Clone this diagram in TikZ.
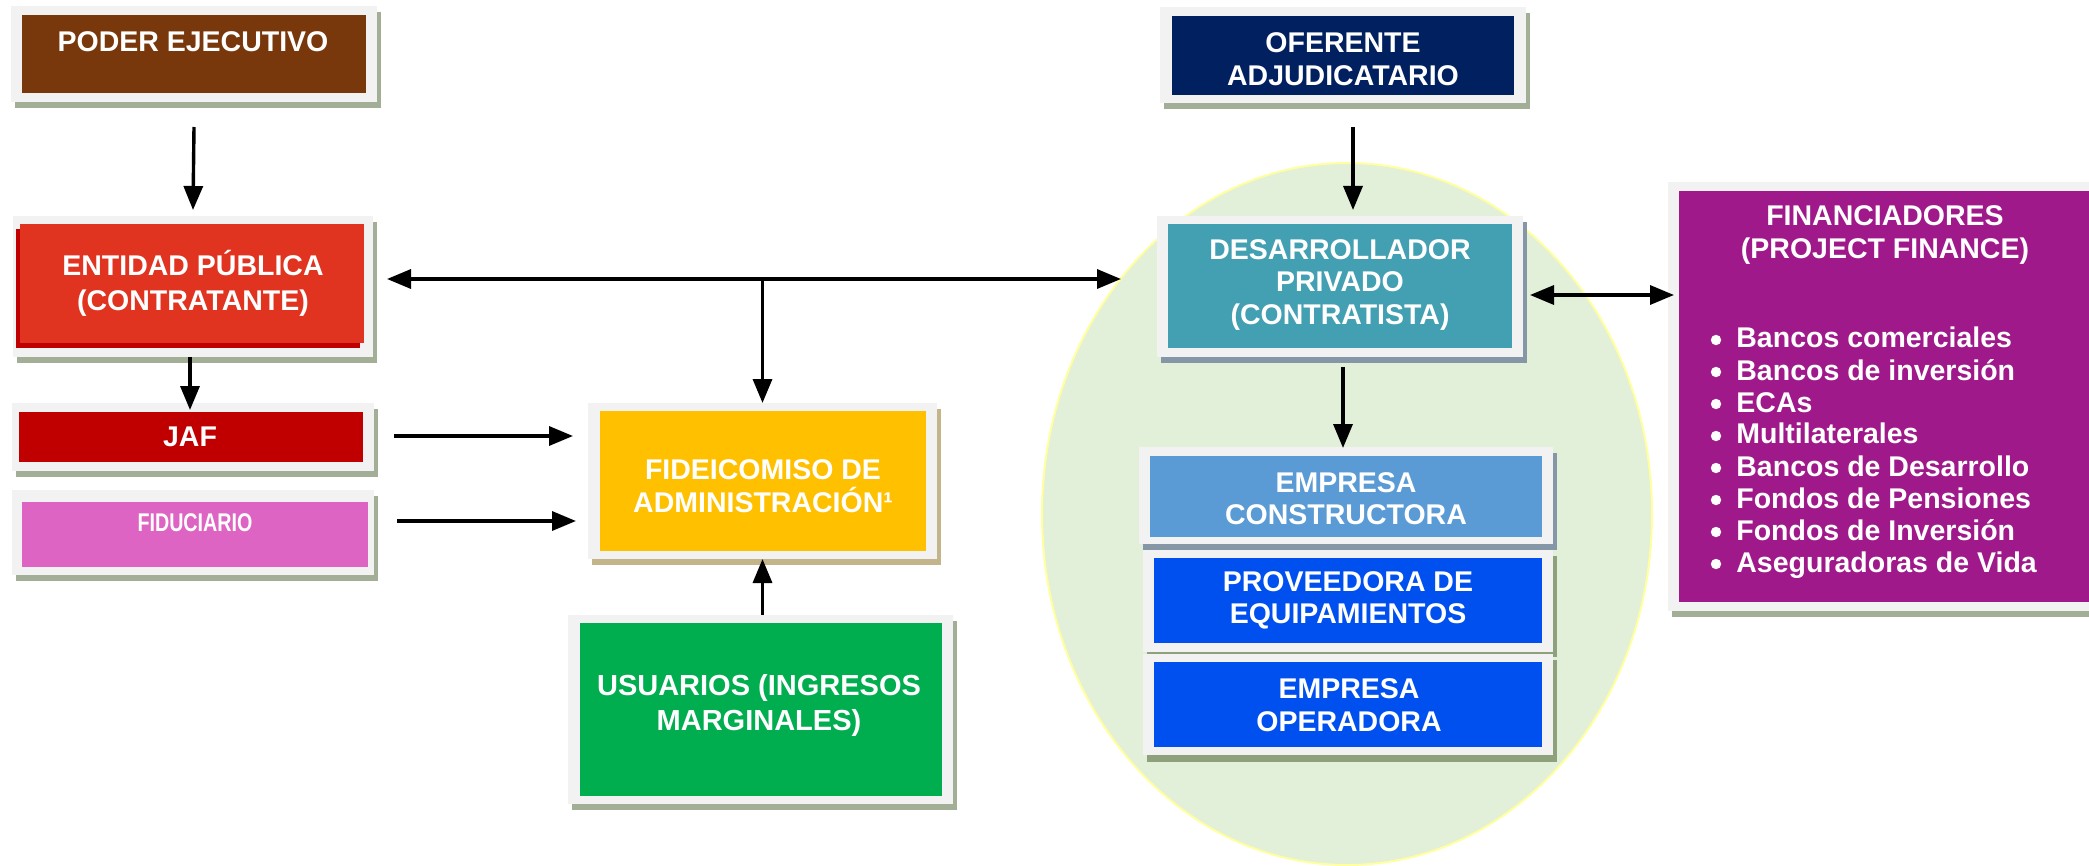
\documentclass[tikz,border=0pt]{standalone}
\usepackage{fontspec}
\setmainfont{Liberation Sans}
\newfontfamily\narrowfont[FakeStretch=0.77]{Liberation Sans}
\usetikzlibrary{arrows.meta,fit,calc}
\definecolor{frm}{HTML}{F2F2F2}
\definecolor{shG}{HTML}{A3AE97}
\definecolor{shB}{HTML}{8597A6}
\definecolor{shT}{HTML}{C4B48A}
\definecolor{shV}{HTML}{8FA07C}
\definecolor{cPoder}{HTML}{78380C}
\definecolor{cEnt}{HTML}{E03320}
\definecolor{cEntD}{HTML}{C00000}
\definecolor{cJaf}{HTML}{C00000}
\definecolor{cFidu}{HTML}{DD64C2}
\definecolor{cFide}{HTML}{FFC000}
\definecolor{cUsu}{HTML}{00AE4F}
\definecolor{cOfer}{HTML}{002060}
\definecolor{cDes}{HTML}{43A0B2}
\definecolor{cCons}{HTML}{5B9BD5}
\definecolor{cProv}{HTML}{0050EF}
\definecolor{cFin}{HTML}{A0198A}
\definecolor{cEll}{HTML}{E2EFD9}
\definecolor{cEllB}{HTML}{FFFFA0}
\begin{document}
\begin{tikzpicture}[x=0.5pt,y=-0.5pt,
  boxframe/.style={fill=frm,draw=none,inner sep=0pt,outer sep=0pt},
  boxfill/.style={draw=none,inner sep=0pt,outer sep=0pt},
  lbl/.style={text=white,font=\bfseries\fontsize{14.25pt}{16.25pt}\selectfont,align=center,inner sep=0pt},
  listtxt/.style={text=white,font=\bfseries\fontsize{14.25pt}{16pt}\selectfont,inner sep=0pt},
  arr/.style={line width=1.7pt,-{Triangle[length=12pt,width=9.5pt]}},
  arr2/.style={line width=1.7pt,{Triangle[length=12pt,width=9.5pt]}-{Triangle[length=12pt,width=9.5pt]}}]
\useasboundingbox (0,0) rectangle (2089,866);
\clip (0,0) rectangle (2089,866);
\fill[white] (0,0) rectangle (2089,866);

% ellipse (private side)
\draw[fill=cEll,draw=cEllB,line width=1pt] (1347,514) ellipse [x radius=152.5pt,y radius=175.5pt];

% PODER EJECUTIVO
\fill[shG] (15,12) rectangle (381,108);
\node[boxframe,fit={(11,6) (377,102)}] (poderF) {};
\node[boxfill,fill=cPoder,fit={(22,15) (366,93)}] (poderI) {};
\node[lbl] (poderT) at (193,42) {PODER EJECUTIVO};

% ENTIDAD PUBLICA
\fill[shG] (17,222) rectangle (377,363);
\node[boxframe,fit={(13,216) (373,357)}] (entidadF) {};
\node[boxfill,fill=cEntD,fit={(16,229) (360,348)}] (entidadD) {};
\node[boxfill,fill=cEnt,fit={(20,224) (364,343)}] (entidadI) {};
\node[lbl,font=\bfseries\fontsize{14.25pt}{17.5pt}\selectfont] (entidadT) at (193,283) {ENTIDAD PÚBLICA\\(CONTRATANTE)};

% JAF
\fill[shG] (16,409) rectangle (378,477);
\node[boxframe,fit={(12,403) (374,471)}] (jafF) {};
\node[boxfill,fill=cJaf,fit={(19,412) (363,462)}] (jafI) {};
\node[lbl] (jafT) at (190,437) {JAF};

% FIDUCIARIO
\fill[shG] (16,496) rectangle (378,581);
\node[boxframe,fit={(12,490) (374,575)}] (fiduF) {};
\node[boxfill,fill=cFidu,fit={(22,502) (368,567)}] (fiduI) {};
\node[lbl,font=\narrowfont\bfseries\fontsize{12.8pt}{15pt}\selectfont] (fiduT) at (195,523) {FIDUCIARIO};

% FIDEICOMISO
\fill[shT] (592,409) rectangle (941,565);
\node[boxframe,fit={(588,403) (937,559)}] (fideF) {};
\node[boxfill,fill=cFide,fit={(600,411) (926,551)}] (fideI) {};
\node[lbl] (fideT) at (763,486) {FIDEICOMISO DE\\ADMINISTRACIÓN¹};

% USUARIOS
\fill[shG] (572,621) rectangle (957,810);
\node[boxframe,fit={(568,615) (953,804)}] (usuF) {};
\node[boxfill,fill=cUsu,fit={(580,623) (942,796)}] (usuI) {};
\node[lbl,font=\bfseries\fontsize{14.5pt}{17.5pt}\selectfont] (usuT) at (759,705) {USUARIOS (INGRESOS\\MARGINALES)};

% OFERENTE
\fill[shG] (1164,13) rectangle (1530,109);
\node[boxframe,fit={(1160,7) (1526,103)}] (oferF) {};
\node[boxfill,fill=cOfer,fit={(1172,16) (1514,95)}] (oferI) {};
\node[lbl] (oferT) at (1343,59) {OFERENTE\\ADJUDICATARIO};

% DESARROLLADOR
\fill[shB] (1161,222) rectangle (1527,363);
\node[boxframe,fit={(1157,216) (1523,357)}] (desF) {};
\node[boxfill,fill=cDes,fit={(1168,224) (1512,348)}] (desI) {};
\node[lbl] (desT) at (1340,285) {DESARROLLADOR\\PRIVADO\\(CONTRATISTA)};

% EMPRESA CONSTRUCTORA
\fill[shB] (1143,453) rectangle (1557,550);
\node[boxframe,fit={(1139,447) (1553,544)}] (consF) {};
\node[boxfill,fill=cCons,fit={(1150,456) (1542,537)}] (consI) {};
\node[lbl] (consT) at (1346,498.5) {EMPRESA\\CONSTRUCTORA};

% PROVEEDORA
\fill[shV] (1147,556) rectangle (1557,657);
\node[boxframe,fit={(1143,550) (1553,652)}] (provF) {};
\node[boxfill,fill=cProv,fit={(1154,558) (1542,643)}] (provI) {};
\node[lbl] (provT) at (1348,600.5) {PROVEEDORA DE\\EQUIPAMIENTOS};

% OPERADORA
\fill[shV] (1147,660) rectangle (1557,762);
\node[boxframe,fit={(1143,654) (1553,755)}] (operF) {};
\node[boxfill,fill=cProv,fit={(1154,662) (1542,747)}] (operI) {};
\node[lbl] (operT) at (1349,705) {EMPRESA\\OPERADORA};

% FINANCIADORES
\fill[shG] (1672,188) rectangle (2124,617);
\node[boxframe,fit={(1668,182) (2120,611)}] (finF) {};
\node[boxfill,fill=cFin,fit={(1679,191) (2110,602)}] (finI) {};
\node[lbl,font=\bfseries\fontsize{14.25pt}{16.5pt}\selectfont] (finT) at (1885,235) {FINANCIADORES\\(PROJECT FINANCE)};
\foreach \t [count=\i] in {Bancos comerciales,Bancos de inversión,ECAs,Multilaterales,Bancos de Desarrollo,Fondos de Pensiones,Fondos de Inversión,Aseguradoras de Vida}{
  \node[listtxt,anchor=base west] (fin\i) at (1736,{348+32*(\i-1)}) {\t};
  \fill[white] (1716,{340+32*(\i-1)}) circle [radius=2.6pt];
}

% connectors
\draw[arr] ($(poderF.south)+(0,25)$) -- ($(entidadF.north)+(0,-6)$);
\draw[arr] ($(oferF.south)+(10,24)$) -- ($(desF.north)+(13,-6)$);
\coordinate (hl) at ($(entidadF.east)+(14,-7.5)$);
\draw[arr2] (hl) -- ($(desF.west)+(-36,-7.5)$);
\draw[arr] (hl -| fideF.north) -- (fideF.north);
\draw[arr] ($(entidadF.south)+(-3,0)$) -- ($(jafF.north)+(-3,7)$);
\draw[arr] ($(jafF.east)+(20,-1)$) -- ($(jafF.east -| fideF.west)+(-15,-1)$);
\draw[arr] ($(fiduF.east)+(23,-11.5)$) -- ($(fiduF.east -| fideF.west)+(-12,-11.5)$);
\draw[arr] (usuF.north -| fideF.south) -- (fideF.south);
\draw[arr] ($(desF.south)+(3,10)$) -- ($(desF.south |- consF.north)+(3,1)$);
\draw[arr2] ($(desF.east)+(7,8.5)$) -- ($(desF.east -| finF.west)+(6,8.5)$);
\end{tikzpicture}
\end{document}
